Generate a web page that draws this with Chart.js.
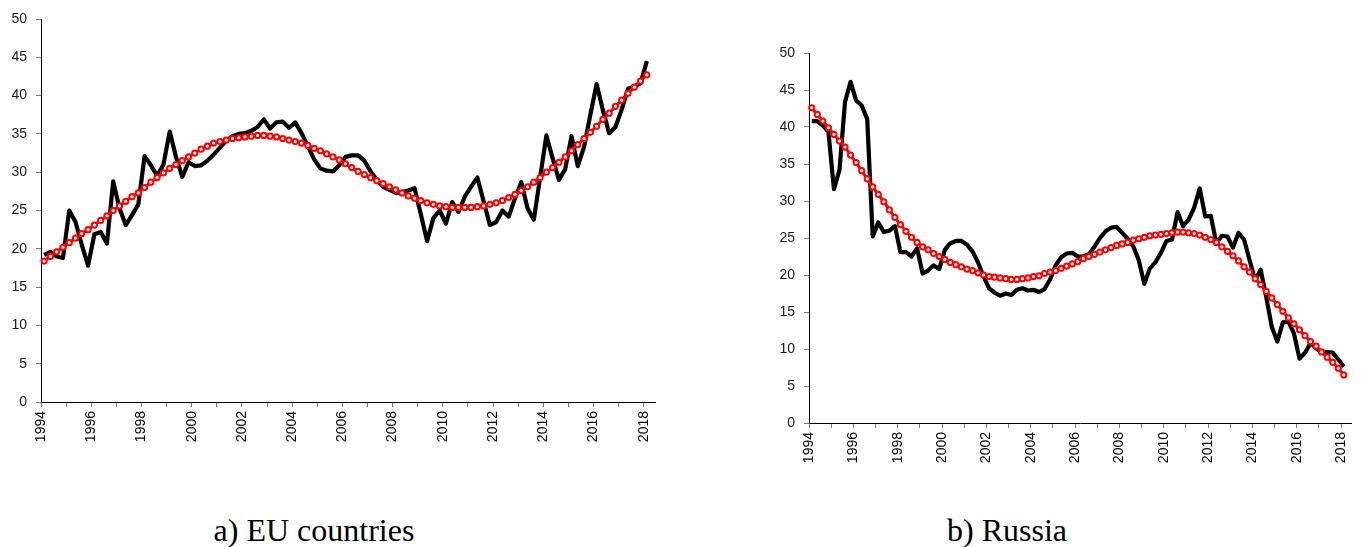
<!DOCTYPE html>
<html>
<head>
<meta charset="utf-8">
<script src="https://cdn.jsdelivr.net/npm/chart.js@4.4.1/dist/chart.umd.min.js"></script>
<style>
  body { margin: 0; background: #fff; width: 1362px; height: 547px; overflow: hidden; position: relative; }
  #euChart { position: absolute; left: 0; top: 0; }
  #ruChart { position: absolute; left: 680px; top: 0; }
  .caption {
    position: absolute; top: 514px; transform: translateX(-50%);
    font-family: "Liberation Serif", "Times New Roman", serif;
    font-size: 32px; line-height: 32px; color: #000; white-space: nowrap;
  }
</style>
</head>
<body>
<canvas id="euChart" width="680" height="480"></canvas>
<canvas id="ruChart" width="682" height="480"></canvas>
<div class="caption" style="left:314px">a) EU countries</div>
<div class="caption" style="left:1007px">b) Russia</div>

<script>
// quarterly series, 1994Q1 .. 2018Q1
const quarters = [];
for (let y = 1994; y <= 2018; y++) {
  for (let q = 1; q <= 4; q++) {
    if (y === 2018 && q > 1) break;
    quarters.push(y + 'Q' + q);
  }
}
const yearLabels = [1994, 1996, 1998, 2000, 2002, 2004, 2006, 2008, 2010, 2012, 2014, 2016, 2018];

const euActual = [
  19.2, 19.6, 19.0, 18.8, 25.0, 23.5, 20.5, 17.8, 21.9, 22.2,
  20.7, 28.8, 25.3, 23.1, 24.4, 25.8, 32.1, 30.9, 29.5, 31.0,
  35.3, 32.0, 29.4, 31.3, 30.8, 30.9, 31.5, 32.3, 33.2, 34.1,
  34.7, 35.0, 35.1, 35.4, 35.9, 36.9, 35.7, 36.5, 36.6, 35.8,
  36.5, 35.1, 33.4, 31.7, 30.5, 30.2, 30.1, 30.9, 32.0, 32.2,
  32.2, 31.5, 30.1, 29.0, 28.1, 27.7, 27.3, 27.4, 27.6, 27.9,
  24.5, 21.0, 24.0, 25.0, 23.3, 26.1, 24.8, 26.8, 28.1, 29.3,
  26.2, 23.1, 23.5, 25.0, 24.2, 26.6, 28.7, 25.3, 23.8, 29.3,
  34.8, 31.8, 29.0, 30.4, 34.7, 30.8, 33.3, 37.5, 41.5, 38.1,
  35.1, 35.9, 38.2, 40.9, 41.2, 41.6, 44.5
];
const euTrend = [
  18.4, 19.0, 19.6, 20.2, 20.8, 21.4, 22.0, 22.5, 23.1, 23.7,
  24.3, 25.0, 25.6, 26.2, 26.8, 27.3, 28.0, 28.7, 29.3, 29.9,
  30.5, 31.0, 31.5, 32.0, 32.5, 33.0, 33.4, 33.8, 34.0, 34.2,
  34.4, 34.5, 34.6, 34.7, 34.8, 34.8, 34.7, 34.6, 34.4, 34.2,
  34.0, 33.8, 33.5, 33.1, 32.8, 32.4, 32.0, 31.6, 31.1, 30.6,
  30.1, 29.7, 29.3, 28.9, 28.5, 28.1, 27.7, 27.3, 26.9, 26.6,
  26.3, 26.0, 25.8, 25.6, 25.5, 25.4, 25.4, 25.4, 25.4, 25.5,
  25.6, 25.8, 26.0, 26.3, 26.7, 27.1, 27.6, 28.1, 28.7, 29.3,
  30.0, 30.6, 31.3, 32.0, 32.8, 33.6, 34.4, 35.2, 36.0, 36.9,
  37.7, 38.6, 39.4, 40.3, 41.1, 41.9, 42.7
];
const ruActual = [
  40.8, 40.8, 40.2, 39.4, 31.6, 34.2, 43.4, 46.1, 43.6, 42.9,
  41.1, 25.2, 27.1, 25.8, 26.0, 26.6, 23.1, 23.1, 22.5, 23.6,
  20.2, 20.6, 21.3, 20.8, 23.4, 24.3, 24.6, 24.6, 24.1, 23.2,
  21.7, 19.8, 18.2, 17.6, 17.2, 17.5, 17.3, 18.0, 18.2, 17.9,
  18.0, 17.7, 18.1, 19.4, 21.3, 22.4, 22.9, 23.0, 22.5, 22.5,
  22.8, 23.8, 25.0, 25.9, 26.4, 26.5, 25.7, 24.9, 23.9, 22.0,
  18.8, 20.9, 21.7, 23.0, 24.6, 24.8, 28.5, 26.6, 27.5, 29.1,
  31.7, 27.9, 28.0, 24.3, 25.3, 25.2, 23.7, 25.7, 24.8, 22.0,
  19.3, 20.7, 17.0, 13.0, 11.0, 13.6, 13.7, 12.1, 8.7, 9.5,
  10.8, 10.1, 9.5, 9.6, 9.5, 8.6, 7.6
];
const ruTrend = [
  42.6, 41.7, 40.8, 39.9, 39.0, 38.1, 37.3, 36.2, 35.2, 34.1,
  33.0, 31.9, 30.9, 29.9, 28.8, 27.8, 26.8, 25.9, 25.1, 24.4,
  23.8, 23.4, 22.9, 22.5, 22.1, 21.7, 21.4, 21.1, 20.8, 20.6,
  20.3, 20.0, 19.8, 19.7, 19.6, 19.5, 19.4, 19.4, 19.5, 19.6,
  19.8, 19.9, 20.2, 20.4, 20.6, 20.9, 21.2, 21.5, 21.8, 22.2,
  22.5, 22.8, 23.1, 23.4, 23.7, 24.0, 24.2, 24.4, 24.7, 24.9,
  25.1, 25.3, 25.4, 25.5, 25.6, 25.7, 25.8, 25.8, 25.7, 25.6,
  25.4, 25.1, 24.8, 24.4, 23.8, 23.2, 22.6, 21.9, 21.1, 20.4,
  19.5, 18.7, 17.8, 16.9, 16.0, 15.1, 14.2, 13.4, 12.6, 11.8,
  11.0, 10.4, 9.6, 8.9, 8.2, 7.4, 6.5
];

// each quarter sits mid-way through its slot on the year axis
function quarterX(label) {
  const [y, q] = label.split('Q').map(Number);
  return y + (q - 0.5) / 4;
}
const toPoints = values => values.map((v, i) => ({ x: quarterX(quarters[i]), y: v }));

const tickFont = { family: '"Liberation Sans", Arial, sans-serif', size: 14 };

function buildChart(id, actual, trend, box) {
  return new Chart(document.getElementById(id), {
    type: 'line',
    data: {
      datasets: [
        {
          data: toPoints(trend),
          borderColor: '#ff0000',
          borderWidth: 3,
          pointRadius: 2.6,
          pointBorderWidth: 2,
          pointBorderColor: '#ff0000',
          pointBackgroundColor: '#ffffff',
          clip: false,
          order: 0
        },
        {
          data: toPoints(actual),
          borderColor: '#000000',
          borderWidth: 4.2,
          borderJoinStyle: 'round',
          pointRadius: 0,
          clip: false,
          order: 1
        }
      ]
    },
    options: {
      responsive: false,
      animation: false,
      devicePixelRatio: 1,
      layout: { padding: box.padding },
      plugins: { legend: { display: false }, tooltip: { enabled: false } },
      scales: {
        x: {
          type: 'linear',
          min: 1994,
          max: 2018.45,
          afterFit: s => { s.height = box.xHeight; },
          grid: { drawOnChartArea: false, tickLength: 5, color: '#7f7f7f' },
          border: { color: '#000', width: 1 },
          ticks: {
            stepSize: 1,
            includeBounds: false,
            autoSkip: false,
            minRotation: 90,
            maxRotation: 90,
            padding: 4,
            color: '#000',
            font: tickFont,
            callback: v => yearLabels.includes(v) ? String(v) : ''
          }
        },
        y: {
          min: 0,
          max: 50,
          afterFit: s => { s.width = box.yWidth; },
          grid: { drawOnChartArea: false, tickLength: 5, color: '#7f7f7f' },
          border: { color: '#000', width: 1 },
          ticks: { stepSize: 5, padding: 9, color: '#1a1a1a', font: tickFont }
        }
      }
    }
  });
}

buildChart('euChart', euActual, euTrend, {
  padding: { left: 0, top: 19, right: 25, bottom: 18 },
  yWidth: 41,
  xHeight: 60
});
buildChart('ruChart', ruActual, ruTrend, {
  padding: { left: 0, top: 53, right: 8, bottom: 7 },
  yWidth: 129,
  xHeight: 50
});
</script>
</body>
</html>
